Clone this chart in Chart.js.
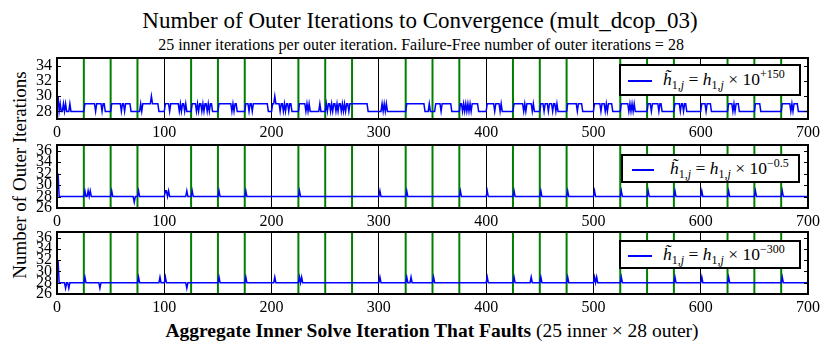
<!DOCTYPE html>
<html>
<head>
<meta charset="utf-8">
<script src="https://cdn.jsdelivr.net/npm/chart.js@4.4.1/dist/chart.umd.min.js"></script>
<style>
  body { margin: 0; background: #fff; }
  #page { position: relative; width: 831px; height: 351px; overflow: hidden;
          font-family: 'Liberation Serif', serif; color: #000; }
  .panel { position: absolute; left: 0; width: 831px; }
  .txt { position: absolute; white-space: nowrap; line-height: 1; transform: translateX(-50%); }
  #ytitle { position: absolute; white-space: nowrap; line-height: 1; font-size: 19px;
            left: 19px; top: 175px; transform: translate(-50%, -50%) rotate(-90deg); }
  .legend { position: absolute; background: #fff; border: 2px solid #000; box-sizing: border-box; }
  .swatch { position: absolute; height: 2px; background: #0000ff; }
  .ltxt { position: absolute; top: 50%; transform: translateY(-52%); white-space: nowrap;
          font-size: 17.5px; line-height: 1; }
  .ltxt sub, .ltxt sup { font-size: 12px; line-height: 0; }
  .ltxt sub { vertical-align: -4px; }
  .ltxt sup { vertical-align: 7px; }
</style>
</head>
<body>
<div id="page">
  <div class="txt" style="left:420px;top:9px;font-size:23px">Number of Outer Iterations to Convergence (mult_dcop_03)</div>
  <div class="txt" style="left:421px;top:37px;font-size:16px">25 inner iterations per outer iteration. Failure-Free number of outer iterations = 28</div>
  <div id="ytitle">Number of Outer Iterations</div>
  <div class="txt" style="left:432px;top:321px;font-size:19.5px"><b>Aggregate Inner Solve Iteration That Faults</b> (25 inner × 28 outer)</div>

  <div class="panel" style="top:52px;height:93px"><canvas id="c1"></canvas></div>
  <div class="panel" style="top:139px;height:95px"><canvas id="c2"></canvas></div>
  <div class="panel" style="top:226px;height:94px"><canvas id="c3"></canvas></div>

  <div class="legend" style="left:619px;top:64px;width:182px;height:32px">
    <div class="swatch" style="left:7px;width:24px;top:14px"></div>
    <div class="ltxt" style="left:42px"><i>h̃</i><sub>1,<i>j</i></sub> = <i>h</i><sub>1,<i>j</i></sub> × 10<sup>+150</sup></div>
  </div>
  <div class="legend" style="left:621px;top:154px;width:179px;height:29px">
    <div class="swatch" style="left:9px;width:22px;top:13px"></div>
    <div class="ltxt" style="left:47px"><i>h̃</i><sub>1,<i>j</i></sub> = <i>h</i><sub>1,<i>j</i></sub> × 10<sup>−0.5</sup></div>
  </div>
  <div class="legend" style="left:619px;top:240px;width:182px;height:29px">
    <div class="swatch" style="left:7px;width:24px;top:13px"></div>
    <div class="ltxt" style="left:42px"><i>h̃</i><sub>1,<i>j</i></sub> = <i>h</i><sub>1,<i>j</i></sub> × 10<sup>−300</sup></div>
  </div>
</div>

<script>
/* data: outer iterations to converge, one value per faulting inner iteration (1..700) */

const faultIters = Array.from({ length: 700 }, (_, i) => i + 1);

// h scaled by 10^+150
const outerScaledUp = [
  30,28,29,28,28, 29,28,29,28,28, 28,29,28,28,28, 28,28,28,28,28, 28,28,28,28,28,
  29,29,29,29,29, 29,29,29,29,29, 28,29,29,29,29, 29,28,29,29,28, 28,28,28,28,28,
  29,29,29,29,29, 29,29,29,29,28, 29,29,28,29,29, 29,29,29,28,28, 28,28,28,28,28,
  28,28,29,28,29, 29,29,29,29,29, 29,29,30,29,29, 29,29,29,29,28, 28,28,28,28,28,
  29,29,29,29,28, 29,29,29,29,29, 29,29,29,28,29, 28,29,29,28,29, 28,28,28,28,28,
  29,29,29,29,28, 29,28,29,29,28, 29,28,29,29,28, 29,28,29,29,28, 28,28,28,28,28,
  29,29,29,29,29, 29,29,29,29,29, 29,29,28,29,28, 29,29,28,28,28, 28,28,28,28,28,
  29,29,29,28,29, 29,28,29,29,29, 29,29,29,29,29, 29,29,29,29,29, 29,28,28,28,28,
  29,29,30,29,29, 29,29,28,29,29, 28,29,28,29,29, 28,29,29,28,28, 28,28,28,28,28,
  29,29,29,29,29, 29,28,29,28,29, 28,28,28,28,28, 28,28,28,28,29, 28,28,28,28,28,
  29,28,29,29,28, 29,28,29,29,28, 29,28,29,29,28, 29,28,29,28,29, 29,28,29,29,29,
  29,29,29,29,29, 29,29,29,29,29, 29,29,29,29,28, 28,28,28,28,28, 28,28,28,28,28,
  28,28,29,28,29, 28,29,28,28,28, 28,28,28,28,28, 28,28,28,28,28, 28,28,28,28,28,
  29,29,29,29,29, 29,29,29,29,29, 29,29,29,29,29, 29,29,28,28,28, 28,29,28,28,28,
  28,28,29,29,29, 29,29,28,29,29, 29,29,29,29,29, 29,29,28,28,28, 28,28,28,28,28,
  29,29,28,29,28, 29,28,29,28,29, 28,29,29,29,29, 29,29,28,28,28, 28,28,28,28,28,
  29,29,29,29,29, 29,29,28,29,29, 29,29,28,29,28, 28,28,28,28,28, 28,28,28,28,28,
  29,29,29,29,29, 29,29,29,29,28, 29,28,29,29,29, 29,29,28,29,28, 28,28,28,28,28,
  29,29,29,28,29, 29,29,28,29,29, 29,28,29,29,28, 29,28,28,28,28, 28,28,28,28,28,
  29,29,29,29,29, 29,29,29,29,28, 29,29,29,29,28, 28,28,28,28,28, 28,28,28,28,28,
  29,29,29,29,29, 29,28,29,29,29, 28,29,28,29,29, 29,29,28,28,28, 28,28,28,28,28,
  29,29,29,29,29, 29,29,28,29,28, 29,28,29,28,28, 28,28,28,28,28, 28,28,28,28,28,
  29,29,29,28,29, 29,29,29,29,29, 28,29,29,28,28, 28,28,28,28,28, 28,28,28,28,28,
  29,29,29,29,29, 28,29,29,28,29, 29,28,28,28,28, 28,28,28,28,28, 28,28,28,28,28,
  29,29,29,29,28, 29,29,29,29,28, 28,28,28,28,28, 28,28,28,28,28, 28,28,28,28,28,
  29,29,29,29,28, 29,28,29,29,29, 28,28,28,28,28, 28,28,28,28,28, 28,28,28,28,28,
  29,29,29,29,29, 28,28,28,28,28, 28,28,28,28,28, 28,28,28,28,28, 28,28,28,28,28,
  29,29,29,29,29, 29,29,29,28,29, 28,29,29,29,29, 28,28,28,28,28, 28,28,28,28,28
];

// h scaled by 10^-0.5
const outerScaledHalf = [
  32,28,28,28,28, 28,28,28,28,28, 28,28,28,28,28, 28,28,28,28,28, 28,28,28,28,28,
  29,28,28,29,28, 29,28,28,28,28, 28,28,28,28,28, 28,28,28,28,28, 28,28,28,28,28,
  29,28,28,28,28, 28,28,28,28,28, 28,28,28,28,28, 28,28,28,28,28, 28,27,28,28,28,
  29,28,28,28,28, 28,28,28,28,28, 28,28,28,28,28, 28,28,28,28,28, 28,28,28,28,28,
  29,29,28,29,28, 28,28,28,28,28, 28,28,28,28,28, 28,28,28,28,28, 29,28,28,28,28,
  29,28,28,28,28, 28,28,28,28,28, 28,28,28,28,28, 28,28,28,28,28, 28,28,28,28,28,
  29,28,28,28,28, 28,28,28,28,28, 28,28,28,28,28, 28,28,28,28,28, 28,28,28,28,28,
  29,28,28,28,28, 28,28,28,28,28, 28,28,28,28,28, 28,28,28,28,28, 28,28,28,28,28,
  28,28,28,28,28, 28,28,28,28,28, 28,28,28,28,28, 28,28,28,28,28, 28,28,28,28,28,
  29,28,28,28,28, 28,28,28,28,28, 28,28,28,28,28, 28,28,28,28,28, 28,28,28,28,28,
  28,28,28,28,28, 28,28,28,28,28, 28,28,28,28,28, 28,28,28,28,28, 28,28,28,28,28,
  28,28,28,28,28, 28,28,28,28,28, 28,28,28,28,28, 28,28,28,28,28, 28,28,28,28,28,
  29,28,28,28,28, 28,28,28,28,28, 28,28,28,28,28, 28,28,28,28,28, 28,28,28,28,28,
  29,28,28,28,28, 28,28,28,28,28, 28,28,28,28,28, 28,28,28,28,28, 28,28,28,28,28,
  28,28,28,28,28, 28,28,28,28,28, 28,28,28,28,28, 28,28,28,28,28, 28,28,28,28,28,
  29,28,28,28,28, 28,28,28,28,28, 28,28,28,28,28, 28,28,28,28,28, 28,28,28,28,28,
  29,28,28,28,28, 28,28,28,28,28, 28,28,28,28,28, 28,28,28,28,28, 28,28,28,28,28,
  29,28,28,28,28, 28,28,28,28,28, 28,28,28,28,28, 28,28,28,28,28, 28,28,28,28,28,
  29,28,28,28,28, 28,28,28,28,28, 28,28,28,28,28, 28,28,28,28,28, 28,28,28,28,28,
  29,28,28,28,28, 28,28,28,28,28, 28,28,28,28,28, 28,28,28,28,28, 28,28,28,28,28,
  29,28,28,28,28, 28,28,28,28,28, 28,28,28,28,28, 28,28,28,28,28, 28,28,28,28,28,
  29,28,28,28,28, 28,28,28,28,28, 28,28,28,28,28, 28,28,28,28,28, 28,28,28,28,28,
  29,28,28,28,28, 28,28,28,28,28, 28,28,28,28,28, 28,28,28,28,28, 28,28,28,28,28,
  29,28,28,28,28, 28,28,28,28,28, 28,28,28,28,28, 28,28,28,28,28, 28,28,28,28,28,
  29,28,28,28,28, 28,28,28,28,28, 28,28,28,28,28, 28,28,28,28,28, 28,28,28,28,28,
  29,28,28,28,28, 28,28,28,28,28, 28,28,28,28,28, 28,28,28,28,28, 28,28,28,28,28,
  29,28,28,28,28, 28,28,28,28,28, 28,28,28,28,28, 28,28,28,28,28, 28,28,28,28,28,
  29,28,28,28,28, 28,28,28,28,28, 28,28,28,28,28, 28,28,28,28,28, 28,28,28,28,28
];

// h scaled by 10^-300
const outerScaledDown = [
  32,28,28,28,28, 28,28,27,28,28, 27,28,28,28,28, 28,28,28,28,28, 28,28,28,28,28,
  29,28,28,28,28, 28,28,28,28,28, 28,28,28,28,27, 28,28,28,28,28, 28,28,28,28,28,
  28,28,28,28,28, 28,28,28,28,28, 28,28,28,28,28, 28,28,28,28,28, 28,28,28,28,28,
  29,28,28,28,28, 28,28,28,28,28, 28,28,28,28,28, 28,28,28,28,28, 29,28,28,28,28,
  29,28,28,28,28, 28,28,28,28,28, 28,28,28,28,28, 28,28,28,28,28, 27,28,28,28,28,
  28,28,28,28,28, 28,28,28,28,28, 28,28,28,28,28, 28,28,28,28,28, 28,28,28,28,28,
  29,28,28,28,28, 28,28,28,28,28, 28,28,28,28,28, 28,28,28,28,28, 28,28,28,28,28,
  29,28,28,28,28, 28,28,28,28,28, 28,28,28,28,28, 28,28,28,28,28, 28,28,28,28,28,
  28,28,29,28,28, 28,28,28,28,28, 28,28,28,28,28, 28,28,28,28,28, 28,28,28,28,28,
  29,28,29,28,28, 28,28,28,28,28, 28,28,28,28,28, 28,28,28,28,28, 28,28,28,28,28,
  28,28,28,28,28, 28,28,28,28,28, 28,28,28,28,28, 28,28,28,28,28, 28,28,28,28,28,
  28,28,28,28,28, 28,28,28,28,28, 28,28,28,28,28, 28,28,28,28,28, 28,28,28,28,28,
  29,28,28,28,28, 28,28,28,28,28, 28,28,28,28,28, 28,28,28,28,28, 28,28,28,28,28,
  29,28,28,28,29, 28,28,28,28,28, 28,28,28,28,28, 28,28,28,28,28, 28,28,28,28,28,
  29,28,28,28,28, 28,28,28,28,28, 28,28,28,28,28, 28,28,28,28,28, 28,28,28,28,28,
  28,28,28,28,28, 28,28,28,28,28, 28,28,28,28,28, 28,28,28,28,28, 28,28,28,28,28,
  29,28,28,28,28, 28,28,28,28,28, 28,28,28,28,28, 28,28,28,28,28, 28,28,28,28,28,
  29,28,28,28,28, 28,28,28,28,28, 28,28,28,28,28, 28,29,28,28,28, 28,28,28,28,28,
  29,28,28,28,28, 28,28,28,28,28, 28,28,28,28,28, 28,28,28,28,28, 28,28,28,28,28,
  29,28,28,28,28, 28,28,28,28,28, 28,28,28,28,28, 28,28,28,28,28, 28,28,28,28,28,
  29,28,29,28,28, 28,28,28,28,28, 28,28,28,28,28, 28,28,28,28,28, 28,28,28,28,28,
  29,28,28,28,28, 28,28,28,28,28, 28,28,28,28,28, 28,28,28,28,28, 28,28,28,28,28,
  28,28,28,28,28, 28,28,28,28,28, 28,28,28,28,28, 28,28,28,28,28, 28,28,28,28,28,
  29,28,28,28,28, 28,28,28,28,28, 28,28,28,28,28, 28,28,28,28,28, 28,28,28,28,28,
  29,28,28,28,28, 28,28,28,28,28, 28,28,28,28,28, 28,28,28,28,28, 28,28,28,28,28,
  29,28,28,28,28, 28,28,28,28,28, 28,28,28,28,28, 28,28,28,28,28, 28,28,28,28,28,
  28,28,28,28,28, 28,28,28,28,28, 28,28,28,28,28, 28,28,28,28,28, 28,28,28,28,28,
  29,28,28,28,28, 28,28,28,28,28, 28,28,28,28,28, 28,28,28,28,28, 28,28,28,28,28
];

// outer iteration boundaries (every 25 inner iterations)
const outerBoundaries = [25, 50, 75, 100, 125, 150, 175, 200, 225, 250, 275, 300, 325, 350,
                         375, 400, 425, 450, 475, 500, 525, 550, 575, 600, 625, 650, 675];

const xTicks = [0, 100, 200, 300, 400, 500, 600, 700];
const yTicksTop = [28, 30, 32, 34];
const yTicksLow = [26, 28, 30, 32, 34, 36];

/* frame, inward ticks and the green outer-iteration lines */

const panelDecor = {
  id: 'panelDecor',
  beforeDatasetsDraw(chart) {
    const { ctx, chartArea: a, scales: { x } } = chart;
    ctx.save();
    ctx.strokeStyle = '#008000';
    ctx.lineWidth = 2;
    outerBoundaries.forEach(v => {
      if (xTicks.includes(v)) return; // black grid line sits there
      const px = x.getPixelForValue(v);
      ctx.beginPath();
      ctx.moveTo(px, a.top);
      ctx.lineTo(px, a.bottom);
      ctx.stroke();
    });
    ctx.restore();
  },
  afterDatasetsDraw(chart) {
    const { ctx, chartArea: a, scales: { y } } = chart;
    ctx.save();
    ctx.strokeStyle = '#000';
    ctx.lineWidth = 1;
    y.ticks.forEach(t => {
      const py = Math.round(y.getPixelForValue(t.value)) + 0.5;
      ctx.beginPath();
      ctx.moveTo(a.left, py); ctx.lineTo(a.left + 4, py);
      ctx.moveTo(a.right - 4, py); ctx.lineTo(a.right, py);
      ctx.stroke();
    });
    ctx.lineWidth = 2;
    ctx.strokeRect(a.left, a.top, a.width, a.height);
    ctx.restore();
  }
};

const tickFont = { family: "'Liberation Serif', serif", size: 16 };

function makePanel(id, values, yMin, yMax, yTicks) {
  return new Chart(document.getElementById(id), {
    type: 'line',
    data: {
      datasets: [{
        data: values.map((v, i) => ({ x: faultIters[i], y: v })),
        borderColor: '#0000ff',
        borderWidth: 1.5,
        pointRadius: 0,
        tension: 0,
        fill: false
      }]
    },
    options: {
      responsive: true,
      maintainAspectRatio: false,
      animation: false,
      events: [],
      layout: { padding: { top: 6, right: 23, left: 0, bottom: 0 } },
      plugins: { legend: { display: false }, tooltip: { enabled: false } },
      scales: {
        x: {
          type: 'linear',
          min: 0,
          max: 700,
          afterBuildTicks: s => { s.ticks = xTicks.map(v => ({ value: v })); },
          afterFit: s => { s.height = 26; s.paddingLeft = 0; s.paddingRight = 0; },
          grid: { color: '#000', lineWidth: 1, drawTicks: false },
          border: { display: false },
          ticks: { padding: 4, color: '#000', font: tickFont, maxRotation: 0, autoSkip: false }
        },
        y: {
          min: yMin,
          max: yMax,
          afterBuildTicks: s => { s.ticks = yTicks.map(v => ({ value: v })); },
          afterFit: s => { s.width = 57; s.paddingTop = 0; s.paddingBottom = 0; },
          grid: { display: false, drawTicks: false },
          border: { display: false },
          ticks: { padding: 5, color: '#000', font: tickFont, autoSkip: false }
        }
      }
    },
    plugins: [panelDecor]
  });
}

makePanel('c1', outerScaledUp, 27, 35, yTicksTop);
makePanel('c2', outerScaledHalf, 26, 37, yTicksLow);
makePanel('c3', outerScaledDown, 26, 37, yTicksLow);
</script>
</body>
</html>
